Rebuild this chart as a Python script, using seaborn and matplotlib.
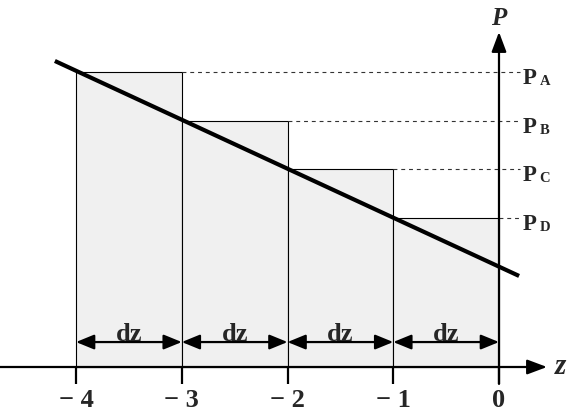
import matplotlib
matplotlib.use("Agg")
import matplotlib.pyplot as plt
import seaborn as sns
import pandas as pd

# ---- data ----
z_left = [-4, -3, -2, -1]                 # left edges of the slabs
pressures = [2.79, 2.33, 1.87, 1.41]      # P_A, P_B, P_C, P_D (bar heights)
p_labels = ["A", "B", "C", "D"]
tick_values = [-4, -3, -2, -1, 0]
tick_labels = ["\u2212 4", "\u2212 3", "\u2212 2", "\u2212 1", "0"]
slab_label = "dz"
line_z = [-4.20, 0.19]                    # end points of the sloped line
line_p = [2.894, 0.861]

sns.set_theme(style="white")
plt.rcParams["font.family"] = ["Liberation Serif", "DejaVu Serif"]
plt.rcParams["font.weight"] = "bold"

fig = plt.figure(figsize=(5.82, 4.14), dpi=100)
ax = fig.add_axes([0, 0, 1, 1])

df = pd.DataFrame({"z": [v + 0.5 for v in z_left], "P": pressures})
sns.barplot(data=df, x="z", y="P", native_scale=True, width=1.0, gap=0,
            color="#f0f0f0", saturation=1, edgecolor="black", linewidth=0.8,
            ax=ax, zorder=1)

# sloped line
sns.lineplot(x=line_z, y=line_p, color="black", linewidth=3.0, ax=ax,
             zorder=5, solid_capstyle="butt")

# dashed level lines to the P axis and labels
for zl, p, lab in zip(z_left, pressures, p_labels):
    ax.plot([zl + 1, 0.2], [p, p], color="#333333", lw=0.8,
            linestyle=(0, (3.5, 3.5)), zorder=2)
    ax.annotate("P", xy=(0, p), xytext=(17.3, -8.0), textcoords="offset points",
                ha="left", va="baseline", fontsize=16.5, fontweight="bold")
    ax.annotate(lab, xy=(0, p), xytext=(29.3, -8.8), textcoords="offset points",
                ha="left", va="baseline", fontsize=10.5, fontweight="bold")

# axes arrows
axis_arrow = dict(arrowstyle="-|>,head_length=1.2,head_width=0.45", lw=1.6,
                  color="black", shrinkA=0, shrinkB=0, mutation_scale=10)
ax.annotate("", xy=(0.454, 0), xytext=(-4.75, 0), arrowprops=axis_arrow, zorder=6)
ax.annotate("", xy=(0, 3.168), xytext=(0, -0.16), arrowprops=axis_arrow, zorder=6)

ax.text(0.0, 3.243, "P", ha="center", va="baseline", fontsize=18,
        fontweight="bold", fontstyle="italic")
ax.text(0.53, -0.06, "z", ha="left", va="baseline", fontsize=21,
        fontweight="bold", fontstyle="italic")

# ticks and tick labels
for tv, tl in zip(tick_values, tick_labels):
    ax.plot([tv, tv], [0, -0.16], color="black", lw=1.6, zorder=6,
            solid_capstyle="butt")
    ax.text(tv, -0.369, tl, ha="center", va="baseline", fontsize=19,
            fontweight="bold")

# dz arrows
dz_arrow = dict(arrowstyle="<|-|>,head_length=1.1,head_width=0.45", lw=1.6,
                color="black", shrinkA=0, shrinkB=0, mutation_scale=10)
for zl in z_left:
    ax.annotate("", xy=(zl + 1, 0.236), xytext=(zl, 0.236), arrowprops=dz_arrow,
                zorder=6)
    ax.text(zl + 0.5, 0.255, slab_label, ha="center", va="baseline",
            fontsize=19, fontweight="bold")

ax.set_xlim(-4.719, 0.785)
ax.set_ylim(-0.435, 3.480)
ax.set_axis_off()

fig.savefig("out.png", dpi=100)
